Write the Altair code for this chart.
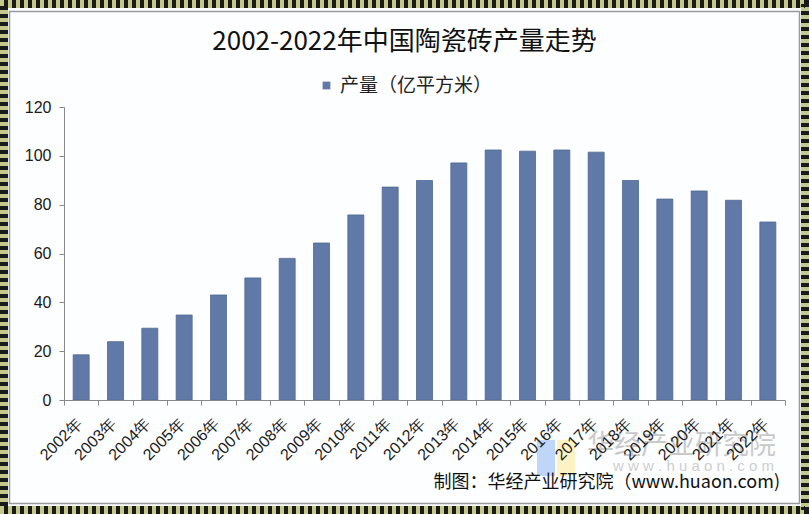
import altair as alt
import pandas as pd

years = [f"{y}年" for y in range(2002, 2023)]
values = [18.5, 23.9, 29.4, 34.8, 43.0, 50.0, 58.0, 64.3, 75.8, 87.2, 89.9,
          97.1, 102.4, 101.9, 102.4, 101.5, 89.9, 82.3, 85.6, 81.8, 72.9]
series_name = "产量（亿平方米）"
title_text = "2002-2022年中国陶瓷砖产量走势"
source_text = "制图：华经产业研究院（www.huaon.com)"
wm_cn = "华经产业研究院"
wm_en = "w w w . h u a o n . c o m"
y_ticks = [0, 20, 40, 60, 80, 100, 120]

W, H = 721, 293
PL, PT, PR, PB = 64, 107, 24, 114

df = pd.DataFrame({"year": years, "value": values, "series": [series_name] * len(years)})

one = pd.DataFrame({"a": [0]})

# decorative frame
frame_base = alt.Chart(one).mark_rect(fill=None, stroke="#c4c78a", strokeWidth=8).encode(
    x=alt.value(-PL + 4), x2=alt.value(W + PR - 4),
    y=alt.value(-PT + 4), y2=alt.value(H + PB - 4))
frame_dash = alt.Chart(one).mark_rect(fill=None, stroke="#1a1a1a", strokeWidth=8,
                                      strokeDash=[4, 4]).encode(
    x=alt.value(-PL + 4), x2=alt.value(W + PR - 4),
    y=alt.value(-PT + 4), y2=alt.value(H + PB - 4))
frame_inner = alt.Chart(one).mark_rect(fill=None, stroke="#9a9a9a", strokeWidth=1.5).encode(
    x=alt.value(-PL + 9.5), x2=alt.value(W + PR - 9.5),
    y=alt.value(-PT + 11.5), y2=alt.value(H + PB - 10.5))

# watermark
logo_b = alt.Chart(one).mark_rect(fill="#b3d0f7", opacity=0.85).encode(
    x=alt.value(537 - PL), x2=alt.value(555 - PL), y=alt.value(440 - PT), y2=alt.value(476 - PT))
logo_y = alt.Chart(one).mark_rect(fill="#fbf0b8", opacity=0.85).encode(
    x=alt.value(557 - PL), x2=alt.value(575 - PL), y=alt.value(440 - PT), y2=alt.value(476 - PT))
wm1 = alt.Chart(pd.DataFrame({"t": [wm_cn]})).mark_text(
    font="Noto Sans CJK SC", fontSize=27, color="#bdbdbd", opacity=0.8, align="right",
    baseline="middle").encode(text="t:N", x=alt.value(776 - PL), y=alt.value(446 - PT))
wm2 = alt.Chart(pd.DataFrame({"t": [wm_en]})).mark_text(
    font="Liberation Sans", fontSize=15, color="#c4c4c4", opacity=0.8, align="right",
    baseline="middle").encode(text="t:N", x=alt.value(774 - PL), y=alt.value(466 - PT))

bars = alt.Chart(df).mark_bar(size=16, stroke="#4f6893", strokeWidth=0.8).encode(
    x=alt.X("year:N", sort=years,
            scale=alt.Scale(paddingInner=0, paddingOuter=0),
            axis=alt.Axis(title=None, labelAngle=-45, labelFont="Liberation Sans",
                          labelFontSize=16, labelColor="#1a1a1a", labelPadding=10,
                          labelOffset=-8,
                          tickBand="extent", tickSize=5, tickColor="#888",
                          domainColor="#888", zindex=1)),
    y=alt.Y("value:Q", scale=alt.Scale(domain=[0, 120]),
            axis=alt.Axis(title=None, values=y_ticks, grid=False, labelFont="Liberation Sans",
                          labelFontSize=16, labelColor="#1a1a1a", labelPadding=8,
                          tickSize=5, tickColor="#888", domainColor="#888", zindex=1)),
    color=alt.Color("series:N", scale=alt.Scale(range=["#6079a6"]),
                    legend=alt.Legend(title=None, orient="none", legendX=253, legendY=-31,
                                      symbolType="square", symbolSize=60,
                                      symbolStrokeWidth=0, labelFont="Noto Sans CJK SC",
                                      labelFontSize=19, labelColor="#222", zindex=1)),
)

title = alt.Chart(pd.DataFrame({"t": [title_text]})).mark_text(
    font="Noto Sans CJK SC", fontSize=26, color="#111", align="center",
    baseline="middle").encode(text="t:N", x=alt.value(404.5 - PL), y=alt.value(42 - PT))

source = alt.Chart(pd.DataFrame({"t": [source_text]})).mark_text(
    font="Noto Sans CJK SC", fontSize=18, color="#111", align="right",
    baseline="middle").encode(text="t:N", x=alt.value(780 - PL), y=alt.value(483 - PT))

chart = alt.layer(frame_base, frame_dash, frame_inner, logo_b, logo_y, wm1, wm2,
                  bars, title, source).properties(
    width=W, height=H,
    autosize=alt.AutoSizeParams(type="none"),
    padding={"left": PL, "top": PT, "right": PR, "bottom": PB},
    background="#fdfeff",
).configure_view(stroke=None)

chart.save("out.html", embed_options={"renderer": "svg", "actions": False})
